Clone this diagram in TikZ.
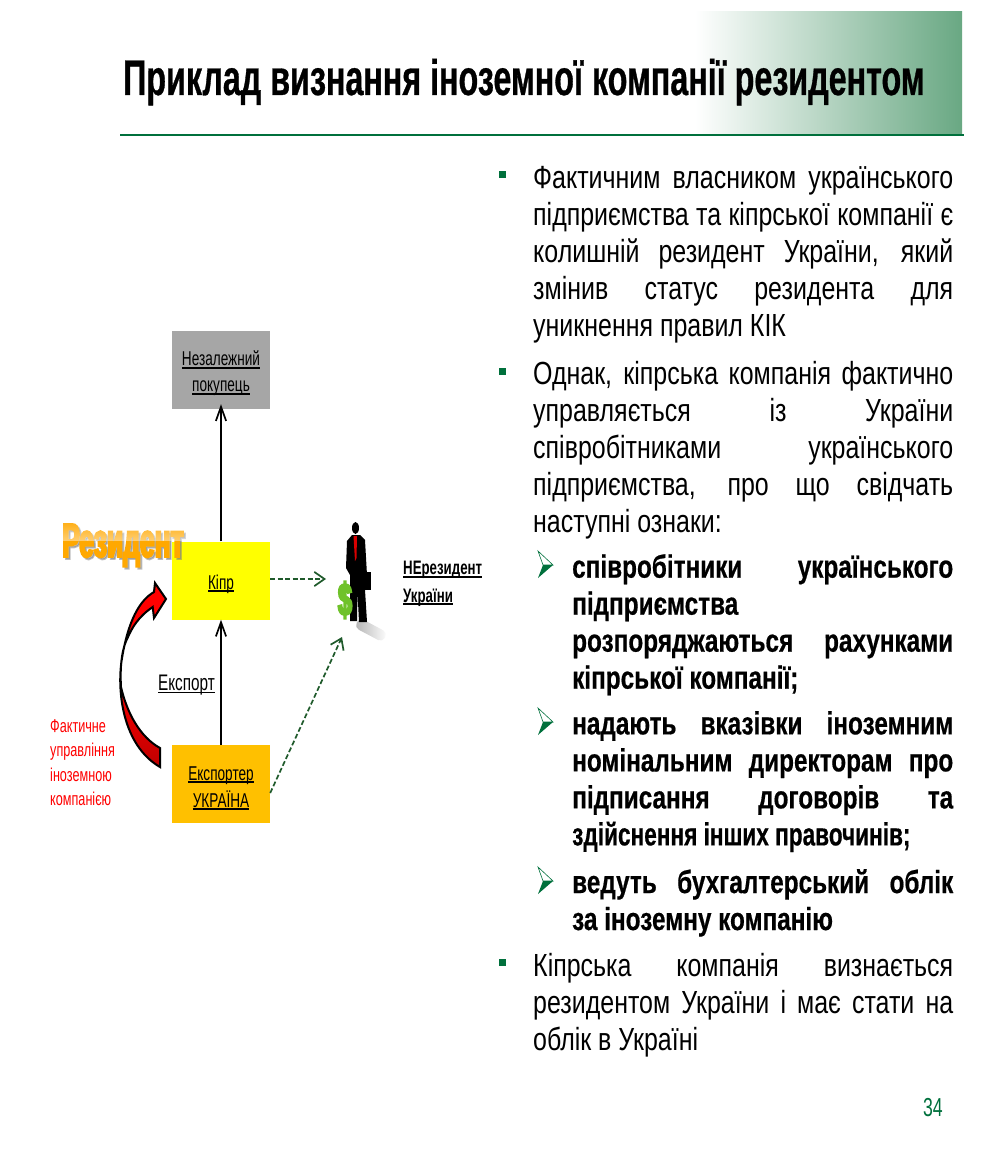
\documentclass[tikz,border=0pt]{standalone}
\usepackage{fontspec}
\setmainfont{Liberation Sans}
\newfontfamily\slidefont[FakeStretch=.78]{Liberation Sans}
\newfontfamily\narrowfont[FakeStretch=.68]{Liberation Sans}
\newfontfamily\titlefont[FakeStretch=.645,FakeBold=.6]{Liberation Sans Bold}
\newfontfamily\subfont[FakeStretch=.76,FakeBold=.5]{Liberation Sans Bold}
\newfontfamily\fatfont[FakeStretch=.55,FakeBold=4]{Liberation Sans Bold}
\usetikzlibrary{arrows.meta,positioning,fadings}
\definecolor{slidegreen}{HTML}{00703C}
\definecolor{bandgreen}{HTML}{69A883}
\definecolor{arrowgreen}{HTML}{1F5A2B}
\definecolor{dollargreen}{HTML}{6FC22A}
\definecolor{boxgray}{HTML}{A6A6A6}
\definecolor{boxyellow}{HTML}{FFFF00}
\definecolor{boxorange}{HTML}{FFC000}
\definecolor{wordorange}{HTML}{FFA800}
\definecolor{darkred}{HTML}{C00000}
\tolerance=9999
\hbadness=10000
\hfuzz=20pt
\hyphenpenalty=10000
\newcommand{\ulin}[1]{\setbox0\hbox{#1}\rlap{\rule[-2.6pt]{\wd0}{1.6pt}}\box0\rule{0pt}{22pt}}
\tikzset{
  company/.style={minimum width=98pt, minimum height=78pt, inner sep=0pt, align=center,
    font=\narrowfont\fontsize{20}{26}\selectfont, text=black},
  smalltext/.style={anchor=west, inner sep=0pt, align=left, font=\narrowfont\fontsize{18.6}{24.3}\selectfont},
  bodytext/.style={anchor=north west, inner sep=0pt, text width=420pt, align=justify,
    font=\slidefont\fontsize{32}{37}\selectfont},
  subtext/.style={anchor=north west, inner sep=0pt, text width=381pt, align=justify,
    font=\subfont\fontsize{32}{37}\selectfont},
  bulletmark/.style={fill=slidegreen, minimum size=7pt, inner sep=0pt},
  flow/.style={-{Straight Barb[length=5mm,width=3.6mm]}, draw=black, line width=1.7pt},
  tiedash/.style={-{Straight Barb[length=3.6mm,width=5mm]}, draw=arrowgreen, line width=1.7pt, dash pattern=on 5pt off 2.5pt}
}

\begin{document}
\begin{tikzpicture}[x=1pt,y=-1pt]
  \useasboundingbox (0,0) rectangle (989,1150);
  \shade[left color=white, right color=bandgreen] (695,12) rectangle (962,135);
  \draw[slidegreen, line width=2pt] (120,135.5) -- (964,135.5);
  \node[anchor=base west, inner sep=0pt, font=\titlefont\fontsize{50}{50}\selectfont] (title) at (123,95) {Приклад визнання іноземної компанії резидентом};

  \node[company, fill=boxgray] (buyer) at (221,370) {\ulin{Незалежний}\\\ulin{покупець}};
  \node[company, fill=boxyellow] (kipr) at (221,580.5) {\ulin{Кіпр}};
  \node[company, fill=boxorange] (exporter) at (221,784) {\ulin{Експортер}\\\ulin{УКРАЇНА}};

  \draw[flow] (kipr.north) -- ([yshift=5pt]buyer.south);
  \draw[flow] (exporter.north) -- (kipr.south);
  \node[anchor=east, inner sep=0pt, font=\narrowfont\fontsize{22.5}{24}\selectfont] (export) at (215,682) {\ulin{Експорт}};

  % man with the dollar
  \coordinate (manside) at (326,579);
  \coordinate (manfoot) at (342,637);
  \node[fill=gray, opacity=.6, path fading=east, rounded corners=5pt, rotate=-28, minimum width=32pt, minimum height=11pt, inner sep=0pt] (shadow) at (371,630) {};
  \fill[black] (352,535) -- (347,541) -- (346,568) -- (350,575) -- (350,592) -- (350,621) -- (357,621) -- (357.5,592)
    -- (359,622) -- (367,622) -- (365,590) -- (367,575) -- (365,540) -- (360,535) -- cycle;
  \fill[black] (355.5,528) circle[x radius=3.5, y radius=6];
  \fill[black] (363,572) rectangle (371,590);
  \fill[red!85!black] (353.5,536) -- (357,536) -- (356.5,558) -- (355,561) -- cycle;
  \node[inner sep=0pt, text=dollargreen, font=\fatfont\fontsize{46}{46}\selectfont] (dollar) at (345,600) {\$};

  \draw[tiedash] (kipr.east |- manside) -- (manside);
  \draw[tiedash] ([yshift=-9pt]exporter.east) -- (manfoot);

  \node[smalltext, font=\narrowfont\bfseries\fontsize{19.5}{26}\selectfont] (nonres) at (403,579.5) {\ulin{НЕрезидент}\\\ulin{України}};

  % word art
  \node[anchor=base west, inner sep=0pt, text=gray, opacity=.5, font=\fatfont\fontsize{48}{48}\selectfont] (residentshadow) at (64,559) {Резидент};
  \node[anchor=base west, inner sep=0pt, text=wordorange, font=\fatfont\fontsize{48}{48}\selectfont] (resident) at (62,557) {Резидент};
  \fill[white, opacity=.45, path fading=north] (60,518) rectangle (187,541);

  % curved arrow
  \draw[draw=black, line width=2pt, top color=red, bottom color=darkred, middle color=red]
    (160,748) .. controls (140,737) and (127,713) .. (121,687) .. controls (120,670) and (121,650) .. (128,637)
    .. controls (132,628) and (138,617) .. (152.7,607) -- (154,618) -- (166,599) -- (155,583) -- (154,592)
    .. controls (140,600) and (128,620) .. (121.7,660) .. controls (117,690) and (122,745) .. (160,767) -- cycle;

  \node[smalltext, text=red] (control) at (50,762.5) {Фактичне\\управління\\іноземною\\компанією};

  % right column
  \node[bulletmark] (mark1) at (502.5,175) {};
  \node[bulletmark] (mark2) at (502.5,371) {};
  \node[bulletmark] (mark3) at (502.5,962) {};
  \node[bodytext] (para1) at (533,166) {Фактичним власником українського\linebreak підприємства та кіпрської компанії є\linebreak колишній резидент України, який\linebreak змінив статус резидента для\linebreak уникнення правил КІК};
  \node[bodytext] (para2) at (533,361) {Однак, кіпрська компанія фактично\linebreak управляється із України\linebreak співробітниками українського\linebreak підприємства, про що свідчать\linebreak наступні ознаки:};
  \node[subtext] (sub1) at (572,554) {співробітники українського\linebreak підприємства\newline розпоряджаються рахунками\linebreak кіпрської компанії;};
  \node[subtext] (sub2) at (572,711) {надають вказівки іноземним\linebreak номінальним директорам про\linebreak підписання договорів та\linebreak \scalebox{.93}[1]{здійснення інших правочинів;}};
  \node[subtext] (sub3) at (572,869) {ведуть бухгалтерський облік\linebreak за іноземну компанію};
  \node[bodytext] (para3) at (533,953) {Кіпрська компанія визнається\linebreak резидентом України і має стати на\linebreak облік в Україні};

  \foreach \cy in {565,722,881} {
    \draw[slidegreen, line width=.6pt] (538,\cy-14) -- (553,\cy) -- (543,\cy) -- cycle;
    \fill[slidegreen] (543,\cy) -- (553,\cy) -- (538,\cy+13) -- cycle;
  }

  \node[anchor=base east, inner sep=0pt, text=slidegreen, font=\narrowfont\fontsize{26}{26}\selectfont] (pagenum) at (943,1116) {34};
\end{tikzpicture}
\end{document}
